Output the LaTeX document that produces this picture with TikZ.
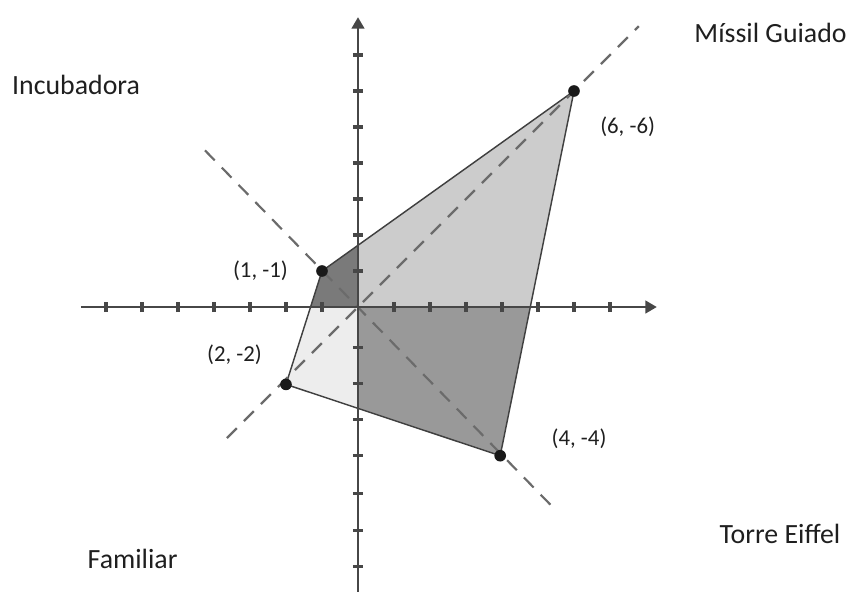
\documentclass[tikz,border=0pt]{standalone}
\usepackage{fontspec}
\setmainfont{Carlito}
\usetikzlibrary{arrows.meta}

\tikzset{
	axisline/.style={line width=0.3mm, color=black!72, -{Triangle[length=4.5pt, width=5pt]}},
	tickline/.style={line width=0.45mm, color=black!72},
	guideline/.style={line width=0.3mm, color=black!58, dash pattern=on 5.5pt off 4pt},
	edgeline/.style={line width=0.2mm, color=black!75},
	vertexdot/.style={circle, fill=black!90, inner sep=0pt, minimum size=4.6pt},
	pointlabel/.style={font=\fontsize{9}{11}\selectfont, text=black!88},
	cornerlabel/.style={font=\fontsize{11}{13}\selectfont, text=black!88},
}

\begin{document}
\begin{tikzpicture}[x=0.5cm, y=0.5cm]
			%%%%% START %%%%%
			\useasboundingbox (-9.944, -7.889) rectangle (13.722, 8.528);
			
			\coordinate (a) at (-1, 1);
			\coordinate (b) at (6, 6);
			\coordinate (c) at (3.95, -4.13);
			\coordinate (d) at (-2, -2.15);
			\def\kite{(a) -- (b) -- (c) -- (d) -- cycle}
			
			% the four quarters of the kite
			\begin{scope}
				\clip (0, 0) rectangle (9, 9);
				\fill[color=black!20] \kite;
			\end{scope}
			\begin{scope}
				\clip (0, 0) rectangle (-9, 9);
				\fill[color=black!52] \kite;
			\end{scope}
			\begin{scope}
				\clip (0, 0) rectangle (-9, -9);
				\fill[color=black!7] \kite;
			\end{scope}
			\begin{scope}
				\clip (0, 0) rectangle (9, -9);
				\fill[color=black!40] \kite;
			\end{scope}
			
			\draw[edgeline] (a) -- (b) -- (c) -- (d) -- cycle;
			
			% dashed diagonals
			\coordinate (g1) at (-3.64, -3.64);
			\coordinate (g2) at (7.8, 7.8);
			\coordinate (g3) at (-4.25, 4.35);
			\coordinate (g4) at (5.5, -5.65);
			\draw[guideline] (g1) -- (g2);
			\draw[guideline] (g3) -- (g4);
			
			% axes
			\coordinate (xl) at (-7.7, 0);
			\coordinate (xr) at (8.3, 0);
			\coordinate (yb) at (0, -7.95);
			\coordinate (yt) at (0, 8.05);
			\draw[axisline] (xl) -- (xr);
			\draw[axisline] (yb) -- (yt);
			\foreach \k in {-7,...,-1,1,2,...,7}
				\draw[tickline] (\k, -0.14) -- (\k, 0.14);
			\foreach \k in {1,...,7}
				\draw[tickline] (-0.14, \k) -- (0.14, \k);
			\foreach \k in {-1.13,-2.13,-3.13,-4.13,-5.18,-6.2,-7.2}
				\draw[tickline] (-0.14, \k) -- (0.14, \k);
			
			\node[vertexdot] (pa) at (a) {};
			\node[vertexdot] (pb) at (b) {};
			\node[vertexdot] (pc) at (c) {};
			\node[vertexdot] (pd) at (d) {};
			
			\node[pointlabel] (la) at (-2.71, 1.0) {(1, -1)};
			\node[pointlabel] (lb) at (7.49, 5.0) {(6, -6)};
			\node[pointlabel] (lc) at (6.14, -3.67) {(4, -4)};
			\node[pointlabel] (ld) at (-3.43, -1.33) {(2, -2)};
			
			\node[cornerlabel] (incubadora) at (-7.83, 6.17) {Incubadora};
			\node[cornerlabel] (missil) at (11.46, 7.61) {Míssil Guiado};
			\node[cornerlabel] (familiar) at (-6.26, -7.0) {Familiar};
			\node[cornerlabel] (torre) at (11.72, -6.3) {Torre Eiffel};
			
			%%%%% END %%%%%
\end{tikzpicture}
\end{document}
